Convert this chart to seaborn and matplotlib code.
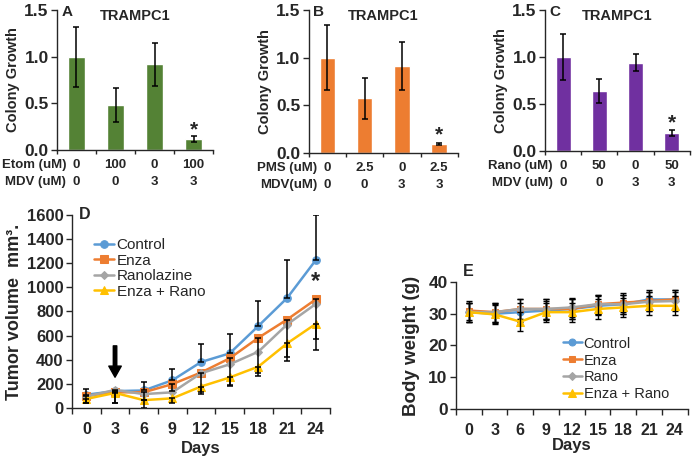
import numpy as np
import pandas as pd
import seaborn as sns
import matplotlib.pyplot as plt

sns.set_style("ticks")
plt.rcParams['font.family'] = ['Liberation Sans', 'DejaVu Sans']
plt.rcParams['font.weight'] = 'bold'
plt.rcParams['axes.labelweight'] = 'bold'

# ---- colony growth data (panels A-C)
bar_groups = ['g1', 'g2', 'g3', 'g4']
etom_vals = [1.0, 0.48, 0.92, 0.12]
etom_err = [0.32, 0.18, 0.23, 0.03]
pms_vals = [1.0, 0.57, 0.91, 0.09]
pms_err = [0.34, 0.22, 0.25, 0.01]
rano_vals = [1.0, 0.64, 0.94, 0.19]
rano_err = [0.25, 0.13, 0.09, 0.03]

etom_dose = ['0', '100', '0', '100']
pms_dose = ['0', '2.5', '0', '2.5']
rano_dose = ['0', '50', '0', '50']
mdv_dose = ['0', '0', '3', '3']

# ---- tumor volume (panel D)
days = [0, 3, 6, 9, 12, 15, 18, 21, 24]
tv_control = [110, 140, 145, 230, 381, 453, 680, 911, 1225]
tv_enza = [100, 130, 130, 198, 294, 412, 582, 733, 900]
tv_rano = [95, 150, 115, 130, 288, 362, 467, 692, 862]
tv_combo = [75, 125, 65, 80, 178, 253, 343, 535, 697]
tv_control_up = [45, 10, 70, 95, 150, 160, 210, 315, 375]
tv_enza_down = [55, 90, 60, 60, 164, 222, 292, 308, 328]
tv_combo_down = [30, 80, 65, 40, 58, 73, 78, 143, 216]

# ---- body weight (panel E)
bw_control = [30.5, 30.0, 30.5, 31.0, 31.5, 32.5, 33.0, 34.5, 34.5]
bw_enza = [31.0, 30.5, 31.5, 31.5, 31.5, 33.0, 33.5, 34.0, 34.5]
bw_rano = [30.5, 30.5, 31.5, 31.5, 32.0, 33.0, 33.0, 33.8, 34.0]
bw_combo = [30.5, 29.8, 27.5, 30.5, 30.5, 31.5, 32.0, 32.5, 32.5]
bw_err = [3.0, 3.0, 3.0, 3.0, 3.0, 3.0, 3.0, 3.0, 3.0]

blue, orange, gray, yellow = '#5B9BD5', '#ED7D31', '#A5A5A5', '#FFC000'

fig = plt.figure(figsize=(7, 4.58), dpi=100)


def style_axis(ax, ysize):
    sns.despine(ax=ax)
    ax.spines['left'].set_linewidth(1.0)
    ax.spines['bottom'].set_linewidth(1.0)
    ax.tick_params(axis='y', direction='out', length=4, width=1, labelsize=ysize, pad=2)


def bar_panel(rect, vals, errs, color, dose, dose_name, mdv_name, letter, star_y):
    ax = fig.add_axes(rect)
    sns.barplot(x=bar_groups, y=vals, color=color, saturation=1, width=0.42, ax=ax)
    ax.errorbar(range(4), vals, yerr=errs, fmt='none', ecolor='black',
                elinewidth=1.1, capsize=2, capthick=1.1)
    style_axis(ax, 12.5)
    ax.set_xlim(-0.5, 3.5)
    ax.set_ylim(0, 1.5)
    ax.set_yticks([0, 0.5, 1.0, 1.5])
    ax.set_yticklabels(['0.0', '0.5', '1.0', '1.5'])
    ax.set_xticks(range(4))
    ax.set_xticklabels([f'{a}\n{b}' for a, b in zip(dose, mdv_dose)],
                       fontsize=9.5, linespacing=1.55)
    ax.set_xticks([-0.5, 0.5, 1.5, 2.5, 3.5], minor=True)
    ax.tick_params(axis='x', which='major', length=0, pad=6.5)
    ax.tick_params(axis='x', which='minor', length=3, width=1)
    ax.set_xlabel('')
    ax.set_ylabel('Colony Growth', fontsize=10.5, labelpad=3)
    ax.annotate(f'{dose_name}\n{mdv_name}', xy=(0, 0), xycoords=('data', 'axes fraction'),
                xytext=(-7.5, -6.5), textcoords='offset points', ha='right', va='top',
                fontsize=9.5, fontweight='bold', linespacing=1.55)
    ax.text(0.03, 0.985, letter, transform=ax.transAxes, fontsize=11, va='center', ha='left')
    ax.text(0.5, 0.955, 'TRAMPC1', transform=ax.transAxes, fontsize=10.5, va='center', ha='center')
    ax.text(3, star_y, '*', fontsize=15, ha='center', va='center')
    return ax


bar_panel([0.0814, 0.6725, 0.223, 0.3057], etom_vals, etom_err, '#548235',
          etom_dose, 'Etom (uM)', 'MDV (uM)', 'A', 0.22)
bar_panel([0.441, 0.6666, 0.213, 0.3116], pms_vals, pms_err, '#ED7D31',
          pms_dose, 'PMS (uM)', 'MDV(uM)', 'B', 0.19)
bar_panel([0.7786, 0.671, 0.207, 0.307], rano_vals, rano_err, '#7030A0',
          rano_dose, 'Rano (uM)', 'MDV (uM)', 'C', 0.30)


def day_axis(ax, labelpad):
    ax.set_xlim(-1.5, 25.5)
    ax.set_xticks(days)
    ax.set_xticks(np.arange(-1.5, 26, 3), minor=True)
    ax.tick_params(axis='x', which='major', length=0, labelsize=11.5, pad=10)
    ax.tick_params(axis='x', which='minor', length=4, width=1)
    ax.set_xlabel('Days', fontsize=12, labelpad=labelpad)


# ---- panel D
axd = fig.add_axes([0.1029, 0.1092, 0.3686, 0.4214])
series_d = [('Control', tv_control, blue, 'o', 5.5),
            ('Enza', tv_enza, orange, 's', 5.5),
            ('Ranolazine', tv_rano, gray, 'D', 3.8),
            ('Enza + Rano', tv_combo, yellow, '^', 6)]
for name, vals, col, mk, ms in series_d:
    sns.lineplot(x=days, y=vals, color=col, marker=mk, markersize=ms, markeredgecolor=col,
                 linewidth=1.8, label=name, ax=axd)
axd.errorbar(days, tv_control, yerr=[np.zeros(len(days)), tv_control_up], fmt='none',
             ecolor='black', elinewidth=1.1, capsize=2, capthick=1.1)
axd.errorbar(days, tv_enza, yerr=[tv_enza_down, np.zeros(len(days))], fmt='none',
             ecolor='black', elinewidth=1.1, capsize=2, capthick=1.1)
axd.errorbar(days, tv_combo, yerr=[tv_combo_down, np.zeros(len(days))], fmt='none',
             ecolor='black', elinewidth=1.1, capsize=2, capthick=1.1)
style_axis(axd, 12)
axd.set_ylim(0, 1600)
axd.set_yticks(range(0, 1601, 200))
day_axis(axd, 3)
axd.set_ylabel('Tumor volume  mm³.', fontsize=13, labelpad=3)
axd.legend(frameon=False, loc='upper left', bbox_to_anchor=(0.087, 0.88), borderaxespad=0,
           borderpad=0, labelspacing=0.1, handlelength=1.3, handletextpad=0.15,
           prop={'weight': 'normal', 'size': 11})
axd.annotate('', xy=(3, 255), xytext=(3, 515),
             arrowprops=dict(facecolor='black', edgecolor='black', width=2.5,
                             headwidth=9, headlength=8))
axd.text(0.025, 1.0, 'D', transform=axd.transAxes, fontsize=11.5, va='center', ha='left')
axd.text(24, 1045, '*', fontsize=17, ha='center', va='center')

# ---- panel E
axe = fig.add_axes([0.6514, 0.107, 0.331, 0.2773])
series_e = [('Control', bw_control, blue, 'o', 5),
            ('Enza', bw_enza, orange, 's', 5),
            ('Rano', bw_rano, gray, 'D', 3.8),
            ('Enza + Rano', bw_combo, yellow, '^', 5.5)]
for name, vals, col, mk, ms in series_e:
    sns.lineplot(x=days, y=vals, color=col, marker=mk, markersize=ms, markeredgecolor=col,
                 linewidth=1.8, label=name, ax=axe)
    axe.errorbar(days, vals, yerr=bw_err, fmt='none', ecolor='black',
                 elinewidth=1.0, capsize=2, capthick=1.0)
style_axis(axe, 12.5)
axe.set_ylim(0, 40)
axe.set_yticks(range(0, 41, 10))
day_axis(axe, 0)
axe.set_ylabel('Body weight (g)', fontsize=13.5, labelpad=6)
axe.legend(frameon=False, loc='upper left', bbox_to_anchor=(0.46, 0.57), borderaxespad=0,
           borderpad=0, labelspacing=0.2, handlelength=1.3, handletextpad=0.15,
           prop={'weight': 'normal', 'size': 10.5})
axe.text(0.03, 1.08, 'E', transform=axe.transAxes, fontsize=11.5, va='center', ha='left')

fig.savefig('out.png', dpi=100)
